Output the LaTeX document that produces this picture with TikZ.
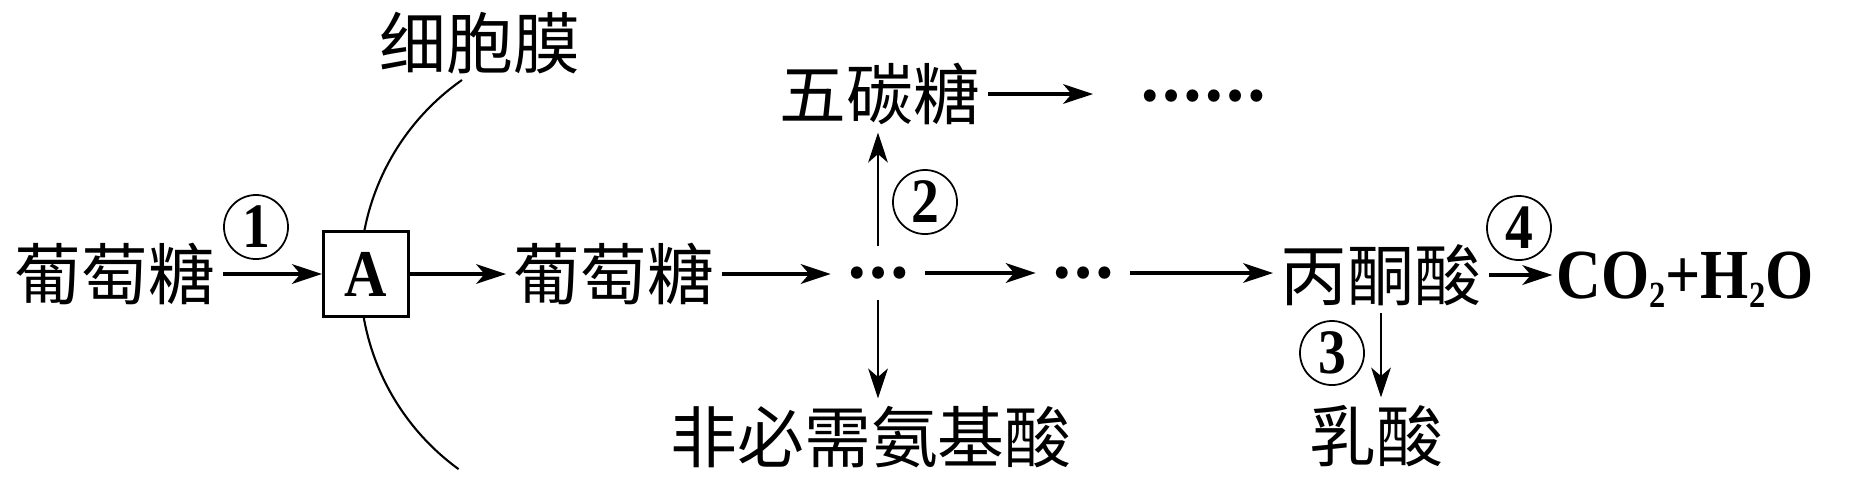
\documentclass[tikz,border=0pt]{standalone}
\usepackage{fontspec}
\setmainfont{Liberation Serif}[FakeStretch=0.88]
\newfontfamily\cjk{Noto Sans CJK SC}
\usetikzlibrary{arrows.meta}
\newcommand{\lowtwo}{\raisebox{-2.6pt}{\fontsize{10.5}{10.5}\selectfont 2}}

\begin{document}
\begin{tikzpicture}[x=0.01cm, y=-0.01cm,
    cnword/.style={font=\cjk\fontsize{19}{19}\selectfont, inner sep=2pt},
    ellip/.style={font=\cjk\bfseries\fontsize{16}{16}\selectfont, inner xsep=0.15cm, inner ysep=0.2cm},
    numcirc/.style={draw, circle, line width=0.5pt, minimum size=0.64cm, inner sep=0pt,
        font=\bfseries\fontsize{18}{18}\selectfont},
    mainarrow/.style={-{Stealth[length=8.5pt, width=5.6pt, inset=2.4pt]}, line width=0.9pt},
    sidearrow/.style={-{Stealth[length=8.5pt, width=5.6pt, inset=2.4pt]}, line width=0.6pt}]

    \useasboundingbox (0,0) rectangle (1857,502);

    % Membrane
    \draw[line width=0.6pt] (462,80) arc[start angle=235, end angle=126, radius=239];
    \node[cnword] (membrane) at (480,43) {细胞膜};

    % Main row
    \node[cnword] (glcout) at (115,274) {葡萄糖};
    \node[draw, line width=0.9pt, fill=white, minimum size=0.85cm, inner sep=0pt,
        font=\bfseries\fontsize{19}{19}\selectfont] (transA) at (366,274) {A};
    \node[cnword] (glcin) at (614,274) {葡萄糖};
    \node[ellip] (branch) at (878,273) {…};
    \node[ellip] (mid) at (1083,273) {…};
    \node[cnword] (pyr) at (1381,275) {丙酮酸};
    \node[font=\bfseries\fontsize{20}{20}\selectfont, inner sep=1pt, anchor=base]
        (co2) at (1685,298) {CO\lowtwo+H\lowtwo O};

    % Branches
    \node[cnword] (pent) at (880,94) {五碳糖};
    \node[ellip] (etc) at (1203,96) {……};
    \node[cnword] (amino) at (871,437) {非必需氨基酸};
    \node[cnword] (lactic) at (1376,436) {乳酸};

    % Step numbers
    \node[numcirc] (one) at (256,227) {1};
    \node[numcirc] (two) at (925,202) {2};
    \node[numcirc] (three) at (1332,353) {3};
    \node[numcirc] (four) at (1519,228) {4};

    % Arrows
    \draw[mainarrow] (glcout) -- (transA);
    \draw[mainarrow] (transA) -- (glcin);
    \draw[mainarrow] (glcin.east) -- (glcin.east -| branch.west);
    \draw[mainarrow] (branch.east) -- (branch.east -| mid.west);
    \draw[mainarrow] (mid.east) -- (mid.east -| pyr.west);
    \draw[mainarrow] (pyr.east) -- (pyr.east -| co2.west);
    \draw[mainarrow, shorten >=0.31cm] (pent.east) -- (pent.east -| etc.west);
    \draw[sidearrow] (branch.north) -- (branch.north |- pent.south);
    \draw[sidearrow] (branch.south) -- (branch.south |- amino.north);
    \draw[sidearrow] (pyr.south) -- (pyr.south |- lactic.north);

\end{tikzpicture}
\end{document}
